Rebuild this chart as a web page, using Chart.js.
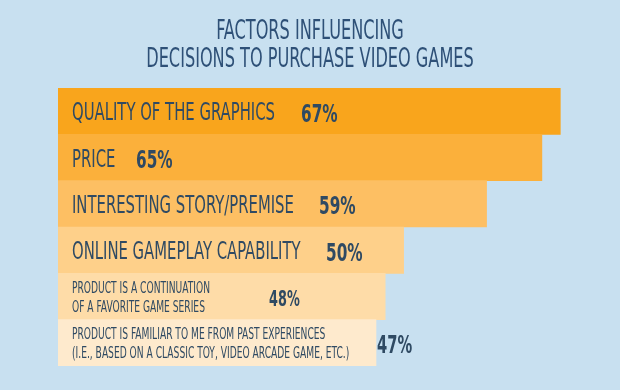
<!DOCTYPE html>
<html>
<head>
<meta charset="utf-8">
<script src="https://cdn.jsdelivr.net/npm/chart.js@4.4.1/dist/chart.umd.min.js"></script>
<style>
  html, body { margin: 0; padding: 0; background: #c8e0f0; }
  #wrap { width: 620px; height: 390px; }
</style>
</head>
<body>
<div id="wrap"><canvas id="factorsChart"></canvas></div>
<script>
// Data
const titleLines = ['FACTORS INFLUENCING', 'DECISIONS TO PURCHASE VIDEO GAMES'];
const categories = [
  ['QUALITY OF THE GRAPHICS'],
  ['PRICE'],
  ['INTERESTING STORY/PREMISE'],
  ['ONLINE GAMEPLAY CAPABILITY'],
  ['PRODUCT IS A CONTINUATION', 'OF A FAVORITE GAME SERIES'],
  ['PRODUCT IS FAMILIAR TO ME FROM PAST EXPERIENCES', '(I.E., BASED ON A CLASSIC TOY, VIDEO ARCADE GAME, ETC.)']
];
const shares = [67, 65, 59, 50, 48, 47];
const shareLabels = shares.map(v => v + '%');

// Styles
const barColors = ['#f9a51c', '#fbb03b', '#fdbf63', '#fed08a', '#fedca8', '#feeacd'];
const textColor = '#2f4a63';
const titleColor = '#2e5077';
const fontName = '"Liberation Sans Narrow", "DejaVu Sans Condensed", sans-serif';
const pctX = [301, 136, 319, 326, 269, 377];
const labelSize = [25, 25, 25, 25, 16.5, 16.5];
const pctSize = [25, 25, 25, 25, 21, 24];

function squeezeText(ctx, text, x, y, size, weight, sx) {
  ctx.save();
  ctx.font = weight + ' ' + size + 'px ' + fontName;
  ctx.translate(x, y);
  ctx.scale(sx, 1);
  ctx.fillText(text, 0, 0);
  ctx.restore();
}

const labelPlugin = {
  id: 'labelPlugin',
  afterDatasetsDraw(chart) {
    const ctx = chart.ctx;
    ctx.save();
    ctx.textBaseline = 'alphabetic';

    // title
    ctx.fillStyle = titleColor;
    ctx.textAlign = 'left';
    titleLines.forEach((line, i) => {
      ctx.font = '26px ' + fontName;
      const w = ctx.measureText(line).width * 0.69;
      squeezeText(ctx, line, 310 - w / 2, 38.5 + i * 28, 26, 'normal', 0.69);
    });

    // bar labels
    ctx.fillStyle = textColor;
    const bars = chart.getDatasetMeta(0).data;
    bars.forEach((bar, i) => {
      const lines = categories[i];
      const size = labelSize[i];
      const cap = size * 0.72;
      const gap = 19;
      lines.forEach((line, j) => {
        const cy = bar.y + (j - (lines.length - 1) / 2) * gap;
        squeezeText(ctx, line, 72, cy + cap / 2, size, 'normal', lines.length > 1 ? 0.615 : 0.66);
      });
      const pc = pctSize[i] * 0.72;
      squeezeText(ctx, shareLabels[i], pctX[i], bar.y + 1.5 + pc / 2, pctSize[i], 'bold', 0.68);
    });
    ctx.restore();
  }
};

new Chart(document.getElementById('factorsChart'), {
  type: 'bar',
  data: {
    labels: categories.map(c => c.join(' ')),
    datasets: [{
      data: shares,
      backgroundColor: barColors,
      borderWidth: 0,
      categoryPercentage: 1,
      barPercentage: 1
    }]
  },
  options: {
    indexAxis: 'y',
    responsive: true,
    maintainAspectRatio: false,
    animation: false,
    layout: { padding: { top: 88, left: 58, right: 9, bottom: 24 } },
    scales: {
      x: { display: false, min: 12.5, max: 72.5 },
      y: { display: false }
    },
    plugins: {
      legend: { display: false },
      tooltip: { enabled: false }
    }
  },
  plugins: [labelPlugin]
});
</script>
</body>
</html>
